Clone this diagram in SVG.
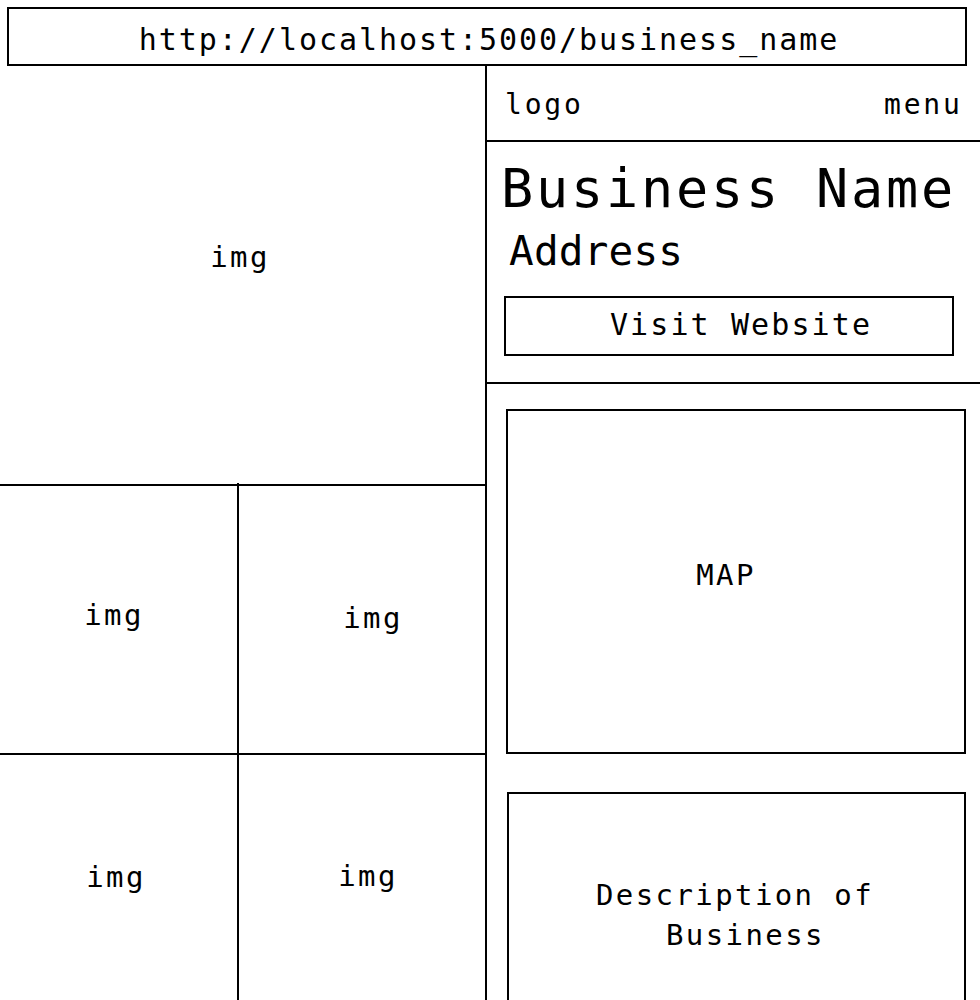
<svg xmlns="http://www.w3.org/2000/svg" width="980" height="1000" viewBox="0 0 980 1000">
<style>
.ln{stroke:#000;stroke-width:2;fill:none}
.bx{stroke:#000;stroke-width:2;fill:#fff}
text{font-family:"DejaVu Sans Mono","Liberation Mono",monospace;fill:#000;font-size:29px;letter-spacing:2.4px}
.m{text-anchor:middle}
</style>
<rect width="980" height="1000" fill="#fff"/>
<g id="connectors">
<line class="ln" x1="486" y1="65" x2="486" y2="1000"/>
<line class="ln" x1="486" y1="141" x2="980" y2="141"/>
<line class="ln" x1="486" y1="383" x2="980" y2="383"/>
<line class="ln" x1="0" y1="485" x2="487" y2="485"/>
<line class="ln" x1="238" y1="483" x2="238" y2="1000"/>
<line class="ln" x1="0" y1="754" x2="486" y2="754"/>
</g>
<g id="url-bar">
<rect class="bx" x="8" y="8" width="958" height="57"/>
<text class="m" x="489" y="50" style="font-size:30px;letter-spacing:1.95px">http://localhost:5000/business_name</text>
</g>
<g id="logo"><text x="505" y="114" style="font-size:28px;letter-spacing:2.8px">logo</text></g>
<g id="menu"><text x="884" y="114" style="font-size:28px;letter-spacing:2.8px">menu</text></g>
<g id="business-name"><text x="501" y="207" style="font-size:53.5px;letter-spacing:2.8px">Business Name</text></g>
<g id="address"><text x="509" y="265" style="font-size:41px;letter-spacing:0.2px">Address</text></g>
<g id="visit-website">
<rect class="bx" x="505" y="297" width="448" height="58"/>
<text class="m" x="741" y="335" style="font-size:30px;letter-spacing:2.1px">Visit Website</text>
</g>
<g id="img-main"><text class="m" x="240" y="267">img</text></g>
<g id="img-2"><text class="m" x="114" y="625">img</text></g>
<g id="img-3"><text class="m" x="373" y="628">img</text></g>
<g id="img-4"><text class="m" x="116" y="887">img</text></g>
<g id="img-5"><text class="m" x="368" y="886">img</text></g>
<g id="map">
<rect class="bx" x="507" y="410" width="458" height="343"/>
<text class="m" x="726" y="585">MAP</text>
</g>
<g id="description">
<rect class="bx" x="508" y="793" width="457" height="220"/>
<text x="596" y="905">Description of</text>
<text x="666" y="945">Business</text>
</g>
</svg>
